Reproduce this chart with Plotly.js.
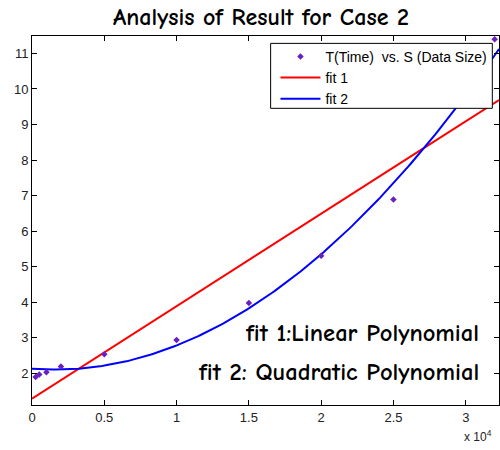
<!DOCTYPE html>
<html>
<head>
<meta charset="utf-8">
<script src="https://cdn.plot.ly/plotly-3.0.1.min.js"></script>
<style>html,body{margin:0;padding:0;background:#fff;}#chart{width:500px;height:450px;}</style>
</head>
<body>
<div id="chart"></div>
<script>
// Data (S in raw units, T in seconds)
const S = [250, 500, 1000, 2000, 5000, 10000, 15000, 20000, 25000, 32000];
const T = [1.90, 1.97, 2.03, 2.19, 2.54, 2.94, 3.98, 5.31, 6.89, 11.40];
// Fit coefficients (x in units of 10^4)
const fit1Coef = [2.60, 1.29];            // p1*x + p2
const fit2Coef = [0.955, -0.30, 2.13];    // p1*x^2 + p2*x + p3
const xTickVals = [0, 5000, 10000, 15000, 20000, 25000, 30000];
const xTickText = ['0', '0.5', '1', '1.5', '2', '2.5', '3'];
const yTickVals = [2, 3, 4, 5, 6, 7, 8, 9, 10, 11];
const xMax = 32300;

const comic = '"Comic Sans MS", "Comic Neue", "Chalkboard", cursive, "DejaVu Sans"';

const grid = [];
for (let i = 0; i <= 200; i++) grid.push(xMax * i / 200);
const f1 = grid.map(s => { const x = s / 1e4; return fit1Coef[0] * x + fit1Coef[1]; });
const f2 = grid.map(s => { const x = s / 1e4; return fit2Coef[0] * x * x + fit2Coef[1] * x + fit2Coef[2]; });

const traces = [
  {x: grid, y: f1, mode: 'lines', name: 'fit 1', line: {color: '#ff0000', width: 2}, legendrank: 2},
  {x: grid, y: f2, mode: 'lines', name: 'fit 2', line: {color: '#0000ff', width: 2}, legendrank: 3},
  {x: S, y: T, mode: 'markers', name: 'T(Time)\u00a0\u00a0vs. S (Data Size)',
   marker: {color: '#6a1fc0', size: 5, symbol: 'diamond'}, cliponaxis: false, legendrank: 1}
];

const axisCommon = {
  showline: true, linecolor: '#000', linewidth: 1, mirror: 'ticks',
  ticks: 'inside', ticklen: 5, tickcolor: '#000', showgrid: false, zeroline: false,
  tickfont: {family: '"Liberation Sans", Arial, sans-serif', size: 13, color: '#222'}
};

const layout = {
  width: 500, height: 450,
  margin: {l: 32, r: 1, t: 36, b: 45},
  paper_bgcolor: '#fff', plot_bgcolor: '#fff',
  title: {text: 'Analysis of Result for Case 2', xref: 'container', x: 0.522, xanchor: 'center', y: 0.964, yanchor: 'middle',
          font: {family: comic, size: 24, color: '#000', weight: 'bold'}},
  xaxis: Object.assign({}, axisCommon, {range: [0, xMax], tickvals: xTickVals, ticktext: xTickText}),
  yaxis: Object.assign({}, axisCommon, {range: [1.11, 11.49], tickvals: yTickVals}),
  showlegend: true,
  legend: {x: 0.986, y: 0.987, xanchor: 'right', yanchor: 'top', bgcolor: 'rgba(0,0,0,0)',
           borderwidth: 0,
           font: {family: '"Liberation Sans", Arial, sans-serif', size: 14, color: '#000'},
           tracegroupgap: 0, itemwidth: 40},
  shapes: [
    {type: 'rect', xref: 'paper', yref: 'paper', x0: 0.511, x1: 0.9857, y0: 0.804, y1: 0.980,
     fillcolor: '#fff', line: {color: '#000', width: 1}, layer: 'above'}
  ],
  annotations: [
    {text: 'fit 1:Linear Polynomial', xref: 'paper', yref: 'paper', x: 0.962, y: 0.195,
     xanchor: 'right', yanchor: 'middle', showarrow: false, font: {family: comic, size: 24.5, color: '#000', weight: 'bold'}},
    {text: 'fit 2: Quadratic Polynomial', xref: 'paper', yref: 'paper', x: 0.962, y: 0.09,
     xanchor: 'right', yanchor: 'middle', showarrow: false, font: {family: comic, size: 24.5, color: '#000', weight: 'bold'}},
    {text: 'x 10<sup>4</sup>', xref: 'paper', yref: 'paper', x: 0.99, y: -0.085,
     xanchor: 'right', yanchor: 'middle', showarrow: false,
     font: {family: '"Liberation Sans", Arial, sans-serif', size: 12, color: '#222'}}
  ]
};

Plotly.newPlot('chart', traces, layout, {displayModeBar: false, staticPlot: true});
</script>
</body>
</html>
